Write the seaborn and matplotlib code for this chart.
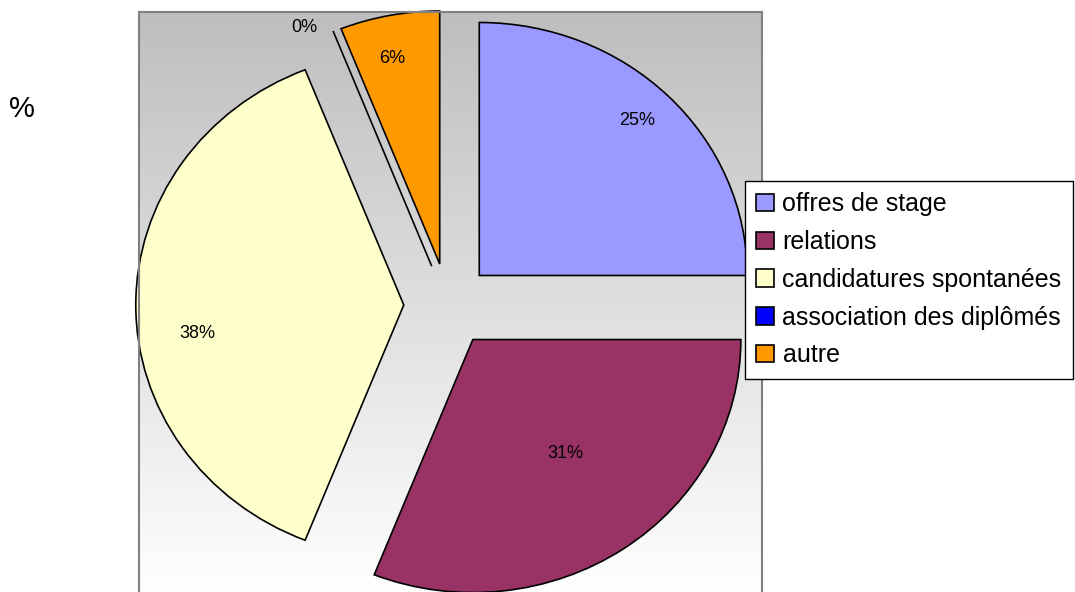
import numpy as np
import matplotlib
matplotlib.use("Agg")
import matplotlib.pyplot as plt
from matplotlib.colors import LinearSegmentedColormap
import seaborn as sns

# Sources des stages (%)
categories = ["offres de stage", "relations", "candidatures spontanées",
              "association des diplômés", "autre"]
values = [25, 31, 38, 0, 6]
colors = ["#9999FF", "#993366", "#FFFFCC", "#0000FF", "#FF9900"]

sns.set_theme(style="white")
plt.rcParams["font.family"] = ["Liberation Sans", "DejaVu Sans"]
plt.rcParams["text.color"] = "black"

W, H = 1075, 592
fig = plt.figure(figsize=(W / 100, H / 100), dpi=100)
fig.patch.set_facecolor("white")

# plot area in pixel units (left, top, right, bottom)
pl, pt, pr, pb = 139, 12, 762, 595
ax = fig.add_axes([pl / W, 1 - pb / H, (pr - pl) / W, (pb - pt) / H])

wedges, texts, autotexts = ax.pie(
    values,
    colors=colors,
    startangle=90,
    counterclock=False,
    explode=[0.165] * len(values),
    autopct="%1.0f%%",
    pctdistance=0.6,
    wedgeprops=dict(edgecolor="black", linewidth=1.2),
    textprops=dict(fontsize=13, color="black"),
)

# slightly wider than tall, centred in the plot area
cx, cy, rx, ry = 448, 305, 268, 253
x0, x1 = (pl - cx) / rx, (pr - cx) / rx
y0, y1 = -(pb - cy) / ry, (cy - pt) / ry

grad = np.linspace(0, 1, 256).reshape(-1, 1)
cmap = LinearSegmentedColormap.from_list("bg", ["#BEBEBE", "#FFFFFF"])
ax.imshow(grad, extent=[x0, x1, y0, y1], cmap=cmap, aspect="auto",
          zorder=0, origin="upper")
ax.set_aspect("auto")
ax.set_xlim(x0, x1)
ax.set_ylim(y0, y1)
ax.set_xticks([])
ax.set_yticks([])
ax.set_frame_on(True)
for sp in ax.spines.values():
    sp.set_visible(True)
    sp.set_color("#808080")
    sp.set_linewidth(1.5)

# label placement for each slice
label_pos = [(0.705, 0.731), (0.437, -0.585), (-0.937, -0.111),
             (-0.537, 1.095), (-0.209, 0.976)]
for t, (lx, ly) in zip(autotexts, label_pos):
    t.set_position((lx, ly))
    t.set_ha("center")
    t.set_va("center")

fig.text(22 / W, 1 - 109 / H, "%", fontsize=21, ha="center", va="center")

leg = fig.legend(
    wedges, categories,
    loc="upper left",
    bbox_to_anchor=(745 / W, 1 - 181 / H),
    fontsize=18,
    frameon=True,
    fancybox=False,
    shadow=False,
    handlelength=0.7,
    handleheight=0.7,
    handletextpad=0.35,
    labelspacing=0.55,
    borderpad=0.45,
    borderaxespad=0,
)
leg.get_frame().set_edgecolor("black")
leg.get_frame().set_linewidth(1)
leg.get_frame().set_facecolor("white")
leg.get_frame().set_alpha(1)
for txt in leg.get_texts():
    txt.set_color("black")

fig.savefig("out.png", dpi=100)
